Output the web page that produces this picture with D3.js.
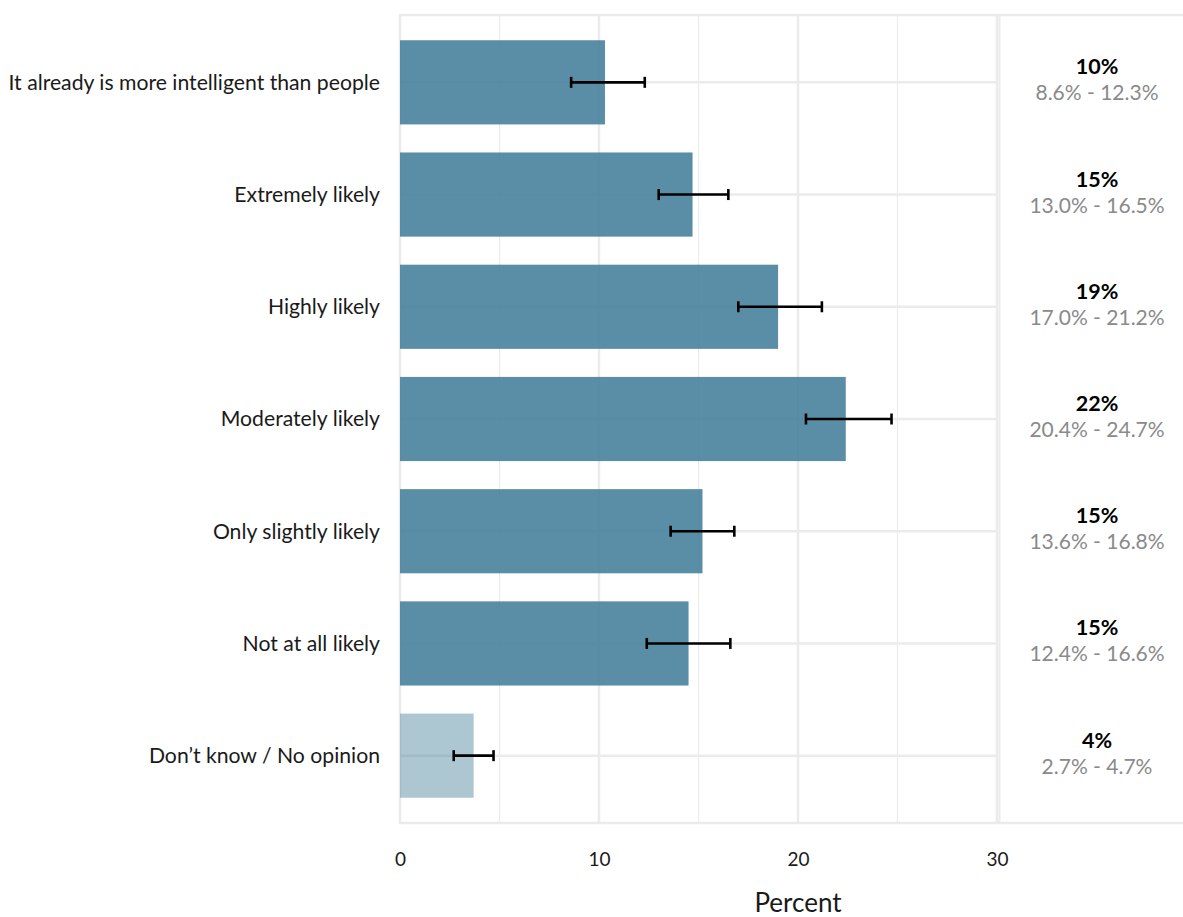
<!DOCTYPE html>
<html>
<head>
<meta charset="utf-8">
<script src="https://cdn.jsdelivr.net/npm/d3@7"></script>
<style>
  html, body { margin: 0; padding: 0; background: #fff; }
  svg { display: block; }
</style>
</head>
<body>
<svg id="chart" width="1183" height="917"></svg>
<script>
const categories = [
  "It already is more intelligent than people",
  "Extremely likely",
  "Highly likely",
  "Moderately likely",
  "Only slightly likely",
  "Not at all likely",
  "Don\u2019t know / No opinion"
];
const values = [10.3, 14.7, 19.0, 22.4, 15.2, 14.5, 3.7];
const lower = [8.6, 13.0, 17.0, 20.4, 13.6, 12.4, 2.7];
const upper = [12.3, 16.5, 21.2, 24.7, 16.8, 16.6, 4.7];
const pctLabels = ["10%", "15%", "19%", "22%", "15%", "15%", "4%"];
const rangeLabels = ["8.6% - 12.3%", "13.0% - 16.5%", "17.0% - 21.2%", "20.4% - 24.7%", "13.6% - 16.8%", "12.4% - 16.6%", "2.7% - 4.7%"];
const xTicks = [0, 10, 20, 30];
const minorTicks = [5, 15, 25];
const muted = [false, false, false, false, false, false, true];

const FONT = "Lato, 'Open Sans', sans-serif";
const svg = d3.select("#chart");
const W = 1183;
const panelTop = 15, panelBottom = 823;
const x = d3.scaleLinear().domain([0, 30]).range([400, 997]);
const y = d3.scaleBand().domain(categories).range([panelTop, panelBottom])
  .paddingInner(0.25).paddingOuter(0.225);
const grid = "#ebebeb";

// grid: left panel
const g = svg.append("g");
g.selectAll("line.minor").data(minorTicks).join("line")
  .attr("x1", d => x(d)).attr("x2", d => x(d))
  .attr("y1", panelTop).attr("y2", panelBottom)
  .attr("stroke", grid).attr("stroke-width", 1.2);
g.selectAll("line.major").data(xTicks).join("line")
  .attr("x1", d => x(d)).attr("x2", d => x(d))
  .attr("y1", panelTop).attr("y2", panelBottom)
  .attr("stroke", grid).attr("stroke-width", 2.5);
g.selectAll("line.hgrid").data(categories).join("line")
  .attr("x1", x(0)).attr("x2", x(30))
  .attr("y1", d => y(d) + y.bandwidth() / 2).attr("y2", d => y(d) + y.bandwidth() / 2)
  .attr("stroke", grid).attr("stroke-width", 2.5);
// panel top/bottom borders extending to right panel
[panelTop, panelBottom].forEach(py => {
  g.append("line").attr("x1", x(0) - 1).attr("x2", W).attr("y1", py).attr("y2", py)
    .attr("stroke", grid).attr("stroke-width", 2.5);
});
// right panel left border
g.append("line").attr("x1", 999.5).attr("x2", 999.5).attr("y1", panelTop).attr("y2", panelBottom)
  .attr("stroke", grid).attr("stroke-width", 2);

// bars
const data = categories.map((c, i) => ({ c, v: values[i], lo: lower[i], hi: upper[i], muted: muted[i], p: pctLabels[i], r: rangeLabels[i] }));
svg.append("g").selectAll("rect").data(data).join("rect")
  .attr("x", x(0))
  .attr("y", d => y(d.c))
  .attr("width", d => x(d.v) - x(0))
  .attr("height", y.bandwidth())
  .attr("fill", "#48819c")
  .attr("fill-opacity", d => d.muted ? 0.45 : 0.9);

// error bars
const eb = svg.append("g").attr("stroke", "#000").attr("stroke-width", 2.6).attr("fill", "none");
data.forEach(d => {
  const cy = y(d.c) + y.bandwidth() / 2;
  eb.append("line").attr("x1", x(d.lo)).attr("x2", x(d.hi)).attr("y1", cy).attr("y2", cy);
  eb.append("line").attr("x1", x(d.lo)).attr("x2", x(d.lo)).attr("y1", cy - 5.5).attr("y2", cy + 5.5);
  eb.append("line").attr("x1", x(d.hi)).attr("x2", x(d.hi)).attr("y1", cy - 5.5).attr("y2", cy + 5.5);
});

// category labels
svg.append("g").selectAll("text").data(data).join("text")
  .attr("x", 380)
  .attr("y", d => y(d.c) + y.bandwidth() / 2)
  .attr("dy", "0.35em")
  .attr("text-anchor", "end")
  .attr("font-family", FONT)
  .attr("font-size", 21.2)
  .attr("fill", "#1a1a1a")
  .text(d => d.c);

// right labels
const rl = svg.append("g").attr("font-family", FONT).attr("text-anchor", "middle");
rl.selectAll("text.p").data(data).join("text")
  .attr("x", 1097)
  .attr("y", d => y(d.c) + y.bandwidth() / 2 - 8)
  .attr("font-size", 21.5).attr("font-weight", "bold").attr("fill", "#000")
  .text(d => d.p);
rl.selectAll("text.r").data(data).join("text")
  .attr("x", 1097)
  .attr("y", d => y(d.c) + y.bandwidth() / 2 + 18)
  .attr("font-size", 21).attr("fill", "#8a8a8a")
  .text(d => d.r);

// x axis ticks
const xAxis = d3.axisBottom(x).tickValues(xTicks).tickSize(0).tickPadding(0).tickFormat(d3.format("d"));
const ax = svg.append("g").attr("transform", `translate(0, 866)`).call(xAxis);
ax.select(".domain").remove();
ax.selectAll("text").attr("font-family", FONT).attr("font-size", 19).attr("fill", "#1a1a1a").attr("dy", 0);

// x axis title
svg.append("text").attr("x", x(20)).attr("y", 912).attr("text-anchor", "middle")
  .attr("font-family", FONT).attr("font-size", 26).attr("fill", "#1a1a1a").text("Percent");
</script>
</body>
</html>
